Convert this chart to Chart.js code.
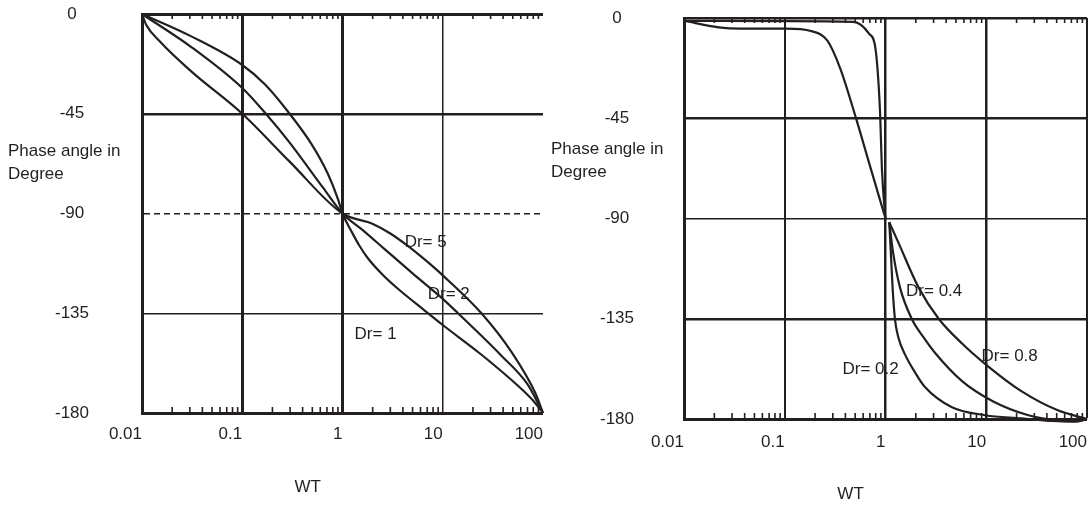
<!DOCTYPE html>
<html>
<head>
<meta charset="utf-8">
<title>Phase angle vs WT</title>
<script src="https://cdn.jsdelivr.net/npm/chart.js@4.4.1/dist/chart.umd.min.js"></script>
<style>
  html, body { margin: 0; padding: 0; background: #fff; overflow: hidden; }
  .box { position: absolute; top: 0; height: 505px; }
  #left { left: 0; width: 545px; }
  #right { left: 545px; width: 546px; }
</style>
</head>
<body>
<div class="box" id="left"><canvas id="leftChart"></canvas></div>
<div class="box" id="right"><canvas id="rightChart"></canvas></div>
<script>
const xTicks = [0.01, 0.1, 1, 10, 100];
const yTicks = [0, -45, -90, -135, -180];
const minorTicks = [
  0.02, 0.03, 0.04, 0.05, 0.06, 0.07, 0.08, 0.09,
  0.2, 0.3, 0.4, 0.5, 0.6, 0.7, 0.8, 0.9,
  2, 3, 4, 5, 6, 7, 8, 9,
  20, 30, 40, 50, 60, 70, 80, 90,
];

// left graph, damping ratio 1, 2, 5  ([WT, phase])
const leftDr1 = [
  [0.01, 0], [0.031, -10.1], [0.1, -23], [0.169, -31.8], [0.297, -45],
  [0.491, -58.7], [0.716, -72.2], [0.901, -83.5], [1, -90],
  [1.24, -98.4], [1.46, -104.2], [1.8, -110.3], [2.5, -117.5], [3.5, -123.6],
  [6.7, -134], [10, -140.3], [24.2, -153.6], [58.8, -168.5], [80, -174.5],
  [100, -180],
];
const leftDr2 = [
  [0.01, 0], [0.031, -14.9], [0.1, -33.4], [0.172, -45], [0.297, -58],
  [0.631, -78], [1, -90], [1.58, -97.4], [2.56, -105.6], [5, -117],
  [10, -128.5], [14.2, -135], [37.8, -153.8], [70, -167], [100, -180],
];
const leftDr5 = [
  [0.01, 0], [0.011, -4.8], [0.0151, -12.4], [0.031, -25.9], [0.1, -45],
  [0.297, -66.6], [1, -90], [2.01, -94.7], [3, -99], [4.48, -104.6],
  [6.5, -110.5], [10, -117.9], [24.2, -134.9], [49.2, -152.9], [83.8, -171],
  [100, -180],
];
const leftNotes = [
  ["Dr= 5", 4.17, -102.8],
  ["Dr= 2", 7.08, -126.3],
  ["Dr= 1", 1.32, -144.3],
];

// right graph, damping ratio 0.2, 0.4, 0.8
const rightUpperSharp = [
  [0.01, -1.25], [0.1, -1.4], [0.477, -1.7], [0.686, -7], [0.794, -13.5],
  [0.855, -30.2], [0.888, -45.3], [0.92, -67.1], [0.99, -88.2], [1, -90],
];
const rightUpperSoft = [
  [0.01, -1.25], [0.0221, -4.2], [0.0363, -4.8], [0.102, -4.8], [0.184, -5.9],
  [0.265, -10.2], [0.355, -22.6], [0.512, -45.3], [0.686, -64.9], [1, -90],
];
const rightDr02 = [
  [1.09, -91.7], [1.13, -105.3], [1.175, -120.8], [1.24, -135], [1.34, -143.3],
  [1.56, -151], [1.96, -159], [2.45, -165.5], [4.57, -174.7], [9.77, -178.3],
  [22.5, -179.7], [45, -180.9], [75, -181.2], [100, -180],
];
const rightDr04 = [
  [1.09, -91.7], [1.19, -105.3], [1.39, -120.8], [1.82, -135], [2.38, -143.3],
  [3.11, -150.4], [5.75, -163], [11.6, -172], [26.2, -178.3], [50, -180.6],
  [80, -181], [100, -180],
];
const rightDr08 = [
  [1.09, -91.7], [1.34, -100.7], [2.12, -120.8], [3.37, -135], [5.75, -146.1],
  [10.2, -156], [22.5, -167.6], [51.3, -176.1], [100, -180],
];
const rightNotes = [
  ["Dr= 0.4", 1.6, -122.6],
  ["Dr= 0.8", 8.98, -151.8],
  ["Dr= 0.2", 0.374, -157.6],
];

const ink = "#231f20";
Chart.defaults.font.family = "'Liberation Sans', Arial, sans-serif";
Chart.defaults.font.size = 17;
Chart.defaults.color = ink;

// small inward tick marks on the top and bottom edges
const minorTickPlugin = {
  id: "minorTicks",
  beforeDatasetsDraw(chart) {
    const { ctx, chartArea: a } = chart;
    const x = chart.scales.x;
    ctx.save();
    ctx.strokeStyle = ink;
    ctx.lineWidth = 1.6;
    ctx.beginPath();
    minorTicks.forEach((v) => {
      const px = x.getPixelForValue(v);
      ctx.moveTo(px, a.bottom);
      ctx.lineTo(px, a.bottom - 6);
      ctx.moveTo(px, a.top);
      ctx.lineTo(px, a.top + 5);
    });
    ctx.stroke();
    ctx.restore();
  },
};

// curve labels and the two axis titles
const textPlugin = {
  id: "texts",
  afterDatasetsDraw(chart, args, opts) {
    const { ctx } = chart;
    const { x, y } = chart.scales;
    ctx.save();
    ctx.fillStyle = ink;
    ctx.font = "17px 'Liberation Sans', Arial, sans-serif";
    ctx.textBaseline = "middle";
    ctx.textAlign = "left";
    opts.notes.forEach(([t, xv, yv]) => {
      ctx.fillText(t, x.getPixelForValue(xv), y.getPixelForValue(yv));
    });
    const ty = y.getPixelForValue(opts.yTitleAt);
    ctx.fillText("Phase angle in", opts.yTitleLeft, ty);
    ctx.fillText("Degree", opts.yTitleLeft, ty + 23);
    ctx.textAlign = "center";
    ctx.fillText("WT", x.getPixelForValue(0.45), chart.height - opts.xTitleUp);
    ctx.restore();
  },
};

function xScale(widths, pad, height) {
  return {
    type: "logarithmic",
    min: 0.01,
    max: 100,
    afterBuildTicks: (s) => { s.ticks = xTicks.map((v) => ({ value: v })); },
    afterFit: (s) => {
      s.height = height;
      s.paddingLeft = 0;
      s.paddingRight = 0;
    },
    ticks: {
      callback: (v) => String(v),
      align: "end",
      padding: pad,
      autoSkip: false,
      maxRotation: 0,
    },
    grid: {
      drawTicks: false,
      color: ink,
      lineWidth: (c) => (c.tick ? widths[xTicks.indexOf(c.tick.value)] : 0),
    },
    border: { width: 3, color: ink },
  };
}

function yScale(widths, dashAt, pad, width) {
  return {
    min: -180,
    max: 0,
    afterFit: (s) => {
      s.width = width;
      s.paddingTop = 0;
      s.paddingBottom = 0;
    },
    ticks: { stepSize: 45, crossAlign: "center", padding: pad },
    grid: {
      drawTicks: false,
      color: ink,
      lineWidth: (c) => (c.tick ? widths[yTicks.indexOf(c.tick.value)] : 0),
    },
    border: {
      width: 3,
      color: ink,
      dash: (c) => (c.tick && c.tick.value === dashAt ? [6, 4] : []),
    },
  };
}

function line(label, pts) {
  return {
    label: label,
    data: pts.map(([x, y]) => ({ x: x, y: y })),
    borderColor: ink,
    borderWidth: 2.2,
    pointRadius: 0,
    cubicInterpolationMode: "monotone",
    clip: 6,
  };
}

new Chart(document.getElementById("leftChart"), {
  type: "line",
  data: {
    datasets: [
      line("Dr= 1", leftDr1),
      line("Dr= 2", leftDr2),
      line("Dr= 5", leftDr5),
    ],
  },
  options: {
    responsive: true,
    maintainAspectRatio: false,
    animation: false,
    layout: { padding: { left: 0, right: 2, top: 14, bottom: 0 } },
    plugins: {
      legend: { display: false },
      tooltip: { enabled: false },
      texts: { notes: leftNotes, yTitleAt: -62, yTitleLeft: 8, xTitleUp: 18 },
    },
    scales: {
      x: xScale([0, 3, 3, 1.5, 0], 11, 92),
      y: yScale([3, 2.5, 1.5, 1.5, 0], -90, 53, 142),
    },
  },
  plugins: [minorTickPlugin, textPlugin],
});

new Chart(document.getElementById("rightChart"), {
  type: "line",
  data: {
    datasets: [
      line("Dr= 0.2", rightUpperSharp),
      line("Dr= 0.8", rightUpperSoft),
      line("Dr= 0.2", rightDr02),
      line("Dr= 0.4", rightDr04),
      line("Dr= 0.8", rightDr08),
    ],
  },
  options: {
    responsive: true,
    maintainAspectRatio: false,
    animation: false,
    layout: { padding: { left: 0, right: 4, top: 18, bottom: 0 } },
    plugins: {
      legend: { display: false },
      tooltip: { enabled: false },
      texts: { notes: rightNotes, yTitleAt: -59, yTitleLeft: 6, xTitleUp: 11 },
    },
    scales: {
      x: xScale([0, 2, 2.5, 2.5, 2], 13, 86),
      y: yScale([2.5, 2.5, 1.5, 2.5, 0], null, 50, 139),
    },
  },
  plugins: [minorTickPlugin, textPlugin],
});
</script>
</body>
</html>
